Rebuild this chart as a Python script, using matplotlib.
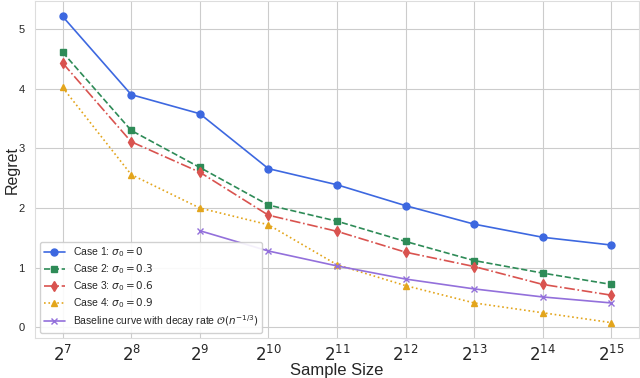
import numpy as np
import matplotlib
matplotlib.use("Agg")
import matplotlib.pyplot as plt
import seaborn as sns

# exponents of the sample size (n = 2^k)
exponents = [7, 8, 9, 10, 11, 12, 13, 14, 15]

case1 = [5.21, 3.90, 3.58, 2.66, 2.39, 2.04, 1.73, 1.51, 1.38]
case2 = [4.61, 3.30, 2.68, 2.05, 1.78, 1.44, 1.12, 0.91, 0.72]
case3 = [4.43, 3.11, 2.60, 1.88, 1.61, 1.26, 1.02, 0.72, 0.54]
case4 = [4.02, 2.56, 2.00, 1.72, 1.05, 0.70, 0.41, 0.245, 0.08]

baseline_exponents = [9, 10, 11, 12, 13, 14, 15]
baseline = [1.62, 1.28, 1.03, 0.81, 0.645, 0.51, 0.41]

sns.set_style("whitegrid")
plt.rcParams['font.family'] = ['Liberation Sans', 'DejaVu Sans']

fig, ax = plt.subplots(figsize=(6.4, 3.78), dpi=100)
fig.subplots_adjust(left=0.055, right=0.998, top=0.997, bottom=0.106)

ax.plot(exponents, case1, color='#3d68e0', linestyle='-', marker='o', markersize=5,
        linewidth=1.2, label=r'Case 1: $\sigma_0 = 0$')
ax.plot(exponents, case2, color='#2e8b57', linestyle='--', marker='s', markersize=5,
        linewidth=1.2, label=r'Case 2: $\sigma_0 = 0.3$')
ax.plot(exponents, case3, color='#d9534f', linestyle='-.', marker='d', markersize=5,
        linewidth=1.2, label=r'Case 3: $\sigma_0 = 0.6$')
ax.plot(exponents, case4, color='#e3a51c', linestyle=':', marker='^', markersize=5,
        linewidth=1.2, label=r'Case 4: $\sigma_0 = 0.9$')
ax.plot(baseline_exponents, baseline, color='#9370db', linestyle='-', marker='x', markersize=5,
        linewidth=1.2, label=r'Baseline curve with decay rate $\mathcal{O}(n^{-1/3})$')

ax.set_xticks(exponents)
ax.set_xticklabels([r'$2^{%d}$' % k for k in exponents], fontsize=12)
ax.set_yticks([0, 1, 2, 3, 4, 5])
ax.tick_params(axis='y', labelsize=8, pad=4)
ax.tick_params(axis='x', pad=1)
ax.set_xlabel('Sample Size', fontsize=12, labelpad=-1)
ax.set_ylabel('Regret', fontsize=11.5)
ax.yaxis.set_label_coords(-0.026, 0.5)

for spine in ax.spines.values():
    spine.set_color('#dddddd')

ax.legend(loc='lower left', fontsize=7.5, framealpha=0.9, handlelength=2.0,
          borderpad=0.35, labelspacing=0.3)

fig.savefig('out.png', dpi=100)
